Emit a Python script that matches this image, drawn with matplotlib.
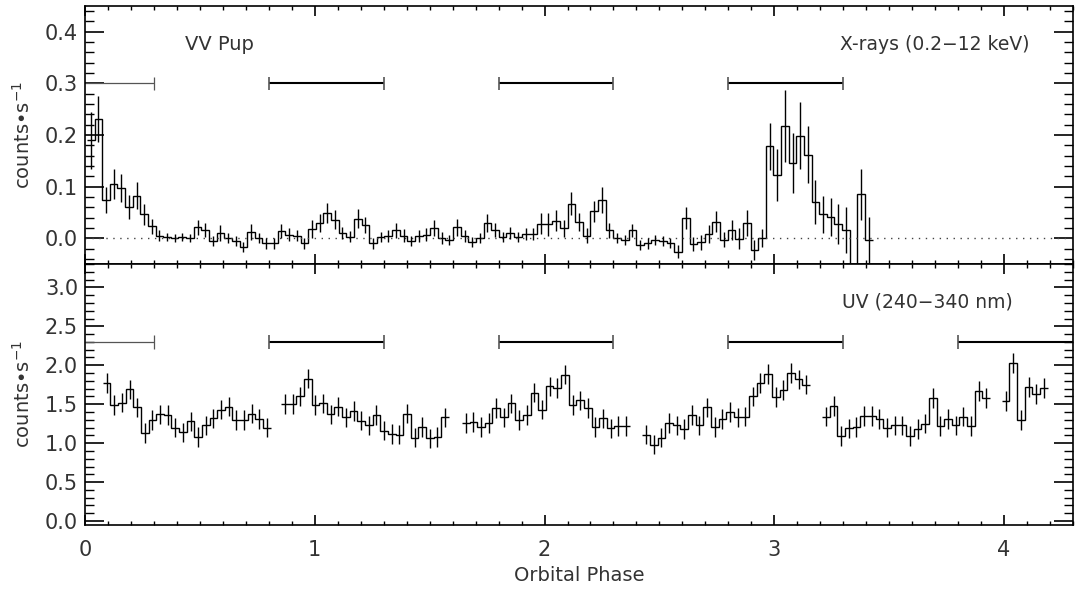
import numpy as np
import matplotlib.pyplot as plt
from matplotlib.ticker import MultipleLocator, FormatStrFormatter

plt.rcParams['font.family'] = ['DejaVu Sans']

# X-ray light curve (0.2-12 keV), bins of constant width in phase
xr_start = 0.025
bin_w = 0.0332
xr_rate = [0.190, 0.231, 0.074, 0.105, 0.098, 0.060, 0.082, 0.046, 0.023, 0.005,
           0.002, 0.000, 0.002, 0.000, 0.021, 0.016, -0.005, 0.010, 0.000, -0.006,
           -0.017, 0.012, 0.000, -0.010, -0.010, 0.014, 0.007, 0.005, -0.010, 0.018,
           0.029, 0.049, 0.036, 0.010, 0.003, 0.038, 0.026, -0.010, 0.002, 0.004,
           0.015, 0.005, -0.005, 0.004, 0.007, 0.020, 0.000, -0.003, 0.021, 0.004,
           -0.008, 0.000, 0.029, 0.016, 0.002, 0.010, 0.002, 0.008, 0.008, 0.028,
           0.027, 0.034, 0.019, 0.067, 0.031, 0.005, 0.052, 0.074, 0.015, 0.000,
           -0.003, 0.015, -0.013, -0.010, -0.003, -0.005, -0.009, -0.026, 0.039, -0.011,
           -0.008, 0.008, 0.032, -0.003, 0.016, -0.001, 0.029, -0.023, 0.000, 0.178,
           0.123, 0.217, 0.146, 0.199, 0.162, 0.070, 0.046, 0.041, 0.028, 0.016,
           -0.100, 0.085, -0.004]
xr_err = [0.055, 0.045, 0.025, 0.030, 0.027, 0.023, 0.026, 0.020, 0.015, 0.010,
          0.008, 0.008, 0.008, 0.008, 0.014, 0.013, 0.010, 0.016, 0.010, 0.010,
          0.010, 0.015, 0.010, 0.010, 0.010, 0.014, 0.012, 0.010, 0.010, 0.017,
          0.017, 0.019, 0.018, 0.012, 0.010, 0.019, 0.016, 0.010, 0.010, 0.012,
          0.014, 0.012, 0.010, 0.012, 0.012, 0.016, 0.012, 0.010, 0.016, 0.012,
          0.010, 0.010, 0.017, 0.014, 0.010, 0.012, 0.010, 0.012, 0.012, 0.020,
          0.022, 0.020, 0.016, 0.023, 0.018, 0.014, 0.021, 0.025, 0.015, 0.010,
          0.010, 0.013, 0.010, 0.010, 0.010, 0.010, 0.010, 0.012, 0.022, 0.014,
          0.014, 0.017, 0.020, 0.015, 0.020, 0.020, 0.025, 0.020, 0.018, 0.045,
          0.050, 0.070, 0.058, 0.065, 0.055, 0.042, 0.036, 0.036, 0.039, 0.045,
          0.050, 0.050, 0.045]

# UV light curve (240-340 nm), six visits
uv_starts = [0.094, 0.870, 1.657, 2.442, 3.225, 4.007]
uv_rates = [
    [1.77, 1.49, 1.52, 1.69, 1.46, 1.13, 1.30, 1.37, 1.36, 1.20, 1.14,
     1.28, 1.08, 1.23, 1.32, 1.43, 1.47, 1.30, 1.30, 1.38, 1.31, 1.20],
    [1.50, 1.50, 1.60, 1.83, 1.49, 1.51, 1.37, 1.47, 1.33, 1.41, 1.29,
     1.23, 1.36, 1.16, 1.12, 1.11, 1.38, 1.07, 1.21, 1.06, 1.08, 1.33],
    [1.26, 1.27, 1.21, 1.26, 1.45, 1.33, 1.51, 1.30, 1.36, 1.65, 1.43,
     1.73, 1.71, 1.88, 1.49, 1.55, 1.45, 1.21, 1.32, 1.19, 1.22, 1.22],
    [1.11, 0.98, 1.07, 1.26, 1.23, 1.18, 1.36, 1.23, 1.46, 1.21, 1.31,
     1.40, 1.33, 1.34, 1.60, 1.77, 1.89, 1.59, 1.68, 1.90, 1.82, 1.75],
    [1.34, 1.48, 1.09, 1.19, 1.21, 1.35, 1.35, 1.31, 1.20, 1.23, 1.23,
     1.09, 1.18, 1.25, 1.58, 1.22, 1.31, 1.23, 1.34, 1.22, 1.67, 1.58],
    [1.54, 2.03, 1.30, 1.72, 1.63, 1.71],
]
uv_err = 0.125

# observation windows (phase ranges)
xr_windows = [(0.0, 0.3), (0.8, 1.3), (1.8, 2.3), (2.8, 3.3)]
uv_windows = [(0.0, 0.3), (0.8, 1.3), (1.8, 2.3), (2.8, 3.3), (3.8, 4.3)]

txt = '#333333'


def draw_curve(ax, start, rate, err):
    rate = np.asarray(rate)
    x = start + bin_w * np.arange(len(rate))
    edges = np.append(x - bin_w / 2, x[-1] + bin_w / 2)
    ax.stairs(rate, edges, baseline=None, color='black', lw=1.0)
    ax.errorbar(x, rate, yerr=err, fmt='none', ecolor='black', elinewidth=1.0, capsize=0)


def draw_windows(ax, windows, level, cap):
    for i, (a, b) in enumerate(windows):
        if i == 0:
            ax.hlines(level, a, b, color='#555555', lw=0.9)
            ax.vlines(b, level - cap, level + cap, color='#555555', lw=0.9)
        else:
            ax.hlines(level, a, b, color='black', lw=1.5)
            ends = [a, b] if b < 4.29 else [a]
            ax.vlines(ends, level - cap, level + cap, color='#555555', lw=1.2)


def style(ax, ymajor, yminor):
    ax.set_xlim(0, 4.3)
    ax.xaxis.set_major_locator(MultipleLocator(1))
    ax.xaxis.set_minor_locator(MultipleLocator(0.1))
    ax.yaxis.set_major_locator(MultipleLocator(ymajor))
    ax.yaxis.set_minor_locator(MultipleLocator(yminor))
    ax.yaxis.set_major_formatter(FormatStrFormatter('%.1f'))
    ax.tick_params(axis='both', which='both', direction='in', top=True, right=True,
                   colors='black', labelcolor=txt, labelsize=15)
    ax.tick_params(axis='x', which='major', length=7, width=1.2)
    ax.tick_params(axis='x', which='minor', length=3, width=1.0)
    ax.tick_params(axis='y', which='major', length=14, width=1.2, pad=5)
    ax.tick_params(axis='y', which='minor', length=6.5, width=1.0)
    for s in ax.spines.values():
        s.set_linewidth(1.2)


fig = plt.figure(figsize=(10.75, 5.89), dpi=100)
ax1 = fig.add_axes([0.0791, 0.5518, 0.919, 0.438])
ax2 = fig.add_axes([0.0791, 0.1087, 0.919, 0.4431])

# X-ray panel
ax1.axhline(0.0, color='#444444', lw=1.0, ls=(0, (1, 4)))
draw_curve(ax1, xr_start, xr_rate, xr_err)
draw_windows(ax1, xr_windows, 0.3, 0.012)
ax1.set_ylim(-0.05, 0.45)
style(ax1, 0.1, 0.02)
ax1.tick_params(axis='x', labelbottom=False)
ax1.set_ylabel('counts\u2022s$^{-1}$', fontsize=14, color=txt, labelpad=8)
ax1.text(0.435, 0.375, 'VV Pup', fontsize=14, color=txt, va='center', ha='left')
ax1.text(4.11, 0.375, 'X-rays (0.2\u221212 keV)', fontsize=13.5, color=txt,
         va='center', ha='right')

# UV panel
for start, rate in zip(uv_starts, uv_rates):
    draw_curve(ax2, start, rate, uv_err)
draw_windows(ax2, uv_windows, 2.3, 0.09)
ax2.set_ylim(-0.05, 3.3)
style(ax2, 0.5, 0.1)
ax2.xaxis.set_major_formatter(FormatStrFormatter('%d'))
ax2.tick_params(axis='x', pad=11)
ax2.set_ylabel('counts\u2022s$^{-1}$', fontsize=14, color=txt, labelpad=8)
ax2.set_xlabel('Orbital Phase', fontsize=14, color=txt, labelpad=4)
ax2.text(4.04, 2.81, 'UV (240\u2212340 nm)', fontsize=13.5, color=txt,
         va='center', ha='right')

fig.savefig('out.png', dpi=100)
